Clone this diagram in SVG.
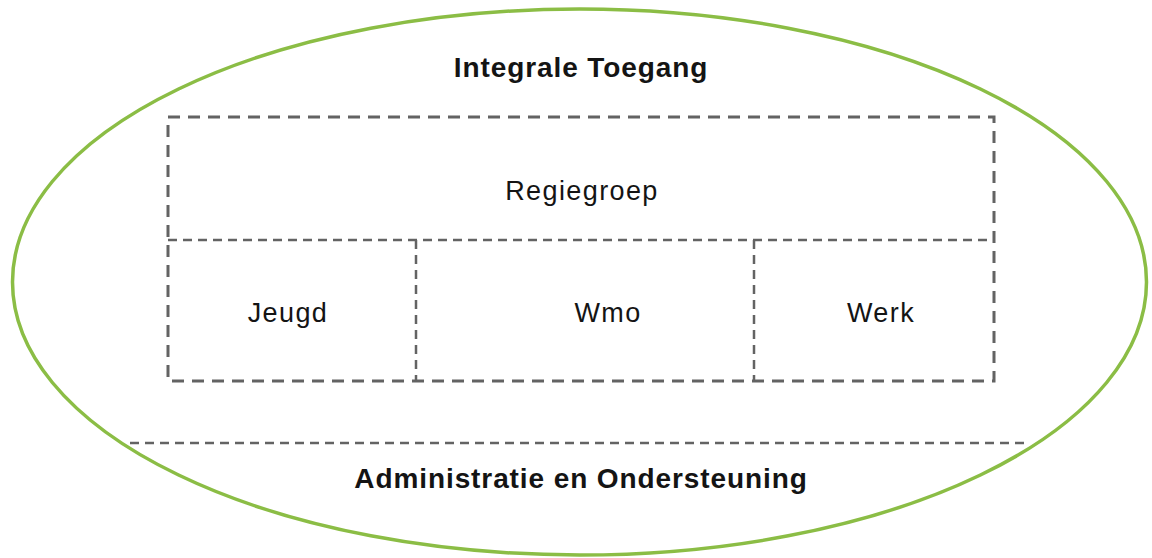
<svg xmlns="http://www.w3.org/2000/svg" width="1152" height="558" viewBox="0 0 1152 558">
  <style>
    .lbl { font-family: "Liberation Sans", Arial, sans-serif; fill: #141414; text-anchor: middle; }
    .bold { font-weight: bold; font-size: 28px; letter-spacing: 0.9px; }
    .norm { font-size: 27px; letter-spacing: 1.4px; }
    .outer { fill: none; stroke: #636363; stroke-width: 3; stroke-dasharray: 12 8; }
    .inner { fill: none; stroke: #636363; stroke-width: 2.5; stroke-dasharray: 9 6; }
  </style>
  <rect width="1152" height="558" fill="#ffffff"/>

  <!-- organisation boundary -->
  <g id="integrale-toegang">
    <ellipse cx="579.5" cy="282" rx="567" ry="273" fill="none" stroke="#8bbd45" stroke-width="3.5"/>
    <text class="lbl bold" x="581" y="77">Integrale Toegang</text>
  </g>

  <g id="regiegroep">
    <rect class="outer" x="168" y="117" width="826" height="264"/>
    <text class="lbl norm" x="582" y="200">Regiegroep</text>
  </g>

  <g id="jeugd">
    <text class="lbl norm" x="288" y="322">Jeugd</text>
  </g>
  <g id="wmo">
    <text class="lbl norm" x="608" y="322">Wmo</text>
  </g>
  <g id="werk">
    <text class="lbl norm" x="881" y="322">Werk</text>
  </g>

  <!-- internal dividers -->
  <g id="connectors">
    <line class="inner" x1="168" y1="240" x2="994" y2="240"/>
    <line class="inner" x1="416" y1="240" x2="416" y2="381"/>
    <line class="inner" x1="754" y1="240" x2="754" y2="381"/>
    <line class="inner" x1="130" y1="443" x2="1025" y2="443"/>
  </g>

  <g id="administratie">
    <text class="lbl bold" x="581" y="488">Administratie en Ondersteuning</text>
  </g>
</svg>
